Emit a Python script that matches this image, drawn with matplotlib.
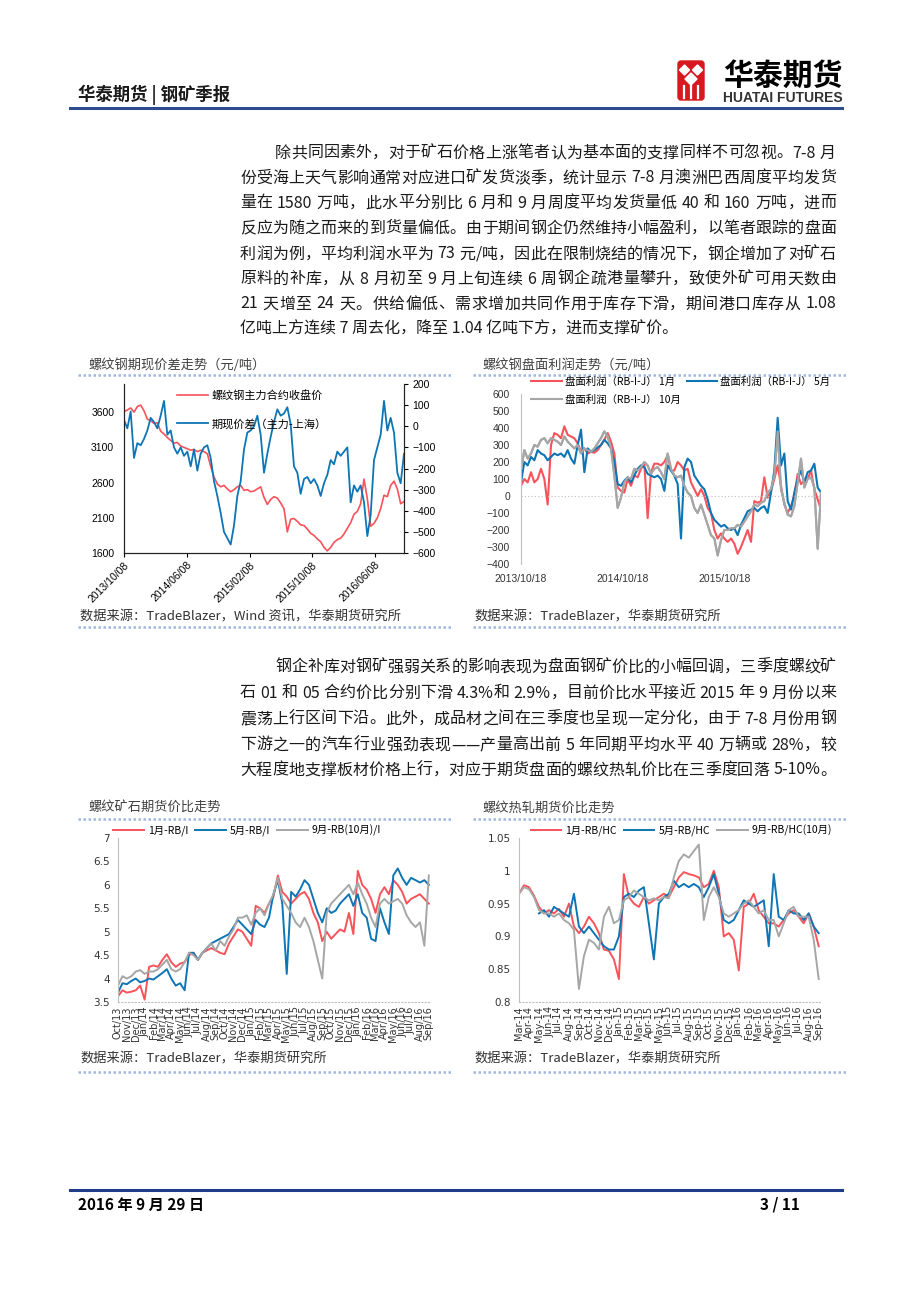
import re
import numpy as np
import pandas as pd
import matplotlib
matplotlib.use("Agg")
import matplotlib.pyplot as plt
import matplotlib.dates as mdates
from matplotlib.ticker import FuncFormatter
from matplotlib.patches import FancyBboxPatch, Polygon

plt.rcParams['font.family'] = ['Noto Sans CJK SC', 'DejaVu Sans']

RED = '#F8525A'
BLUE = '#0E75B5'
GRAY = '#A6A6A6'
LINE_BLUE = '#9FB6DD'

# ---------------- data ----------------
# chart 1: rebar main contract close (left) and futures-spot basis (right)
rb_close = [3610, 3630, 3660, 3600, 3680, 3700, 3620, 3500, 3480, 3440,
            3450, 3330, 3290, 3240, 3200, 3160, 3170, 3120, 3100, 3080,
            3060, 3070, 3040, 3060, 3040, 3010, 2830, 2680, 2580, 2540,
            2560, 2510, 2470, 2500, 2540, 2560, 2490, 2500, 2470, 2480,
            2510, 2540, 2390, 2290, 2360, 2400, 2380, 2310, 2230, 1900,
            2080, 2090, 2050, 2000, 1990, 1940, 1880, 1850, 1800, 1760,
            1680, 1630, 1680, 1750, 1790, 1810, 1870, 1950, 2030, 2150,
            2190, 2300, 2650, 2370, 1980, 2020, 2100, 2230, 2420, 2400,
            2560, 2620, 2510, 2300, 2330]
rb_basis = [30, -10, 70, -150, -80, -90, -60, -20, 40, 20,
            -10, 50, 120, -40, -20, -100, -130, -100, -140, -120,
            -190, -110, -210, -130, -100, -90, -150, -260, -330, -410,
            -500, -530, -560, -470, -330, -260, -110, -30, -20, 0,
            50, -40, -220, -130, -50, 20, 80, 50, 60, 90,
            10, -190, -220, -320, -250, -240, -270, -250, -280, -330,
            -270, -230, -160, -180, -120, -140, -120, -100, -360, -280,
            -310, -280, -360, -520, -420, -160, -100, -40, 120, -20,
            40, -30, -220, -270, -130]
c1_ticks = ['2013-10-08', '2014-06-08', '2015-02-08', '2015-10-08', '2016-06-08']

# chart 2: rebar board profit (RB-I-J)
profit_jan = [60, 100, 80, 140, 80, 100, 160, 100, -50, 300,
              370, 360, 340, 410, 360, 350, 340, 310, 260, 280,
              250, 260, 255, 270, 300, 330, 370, 320, 250, 50,
              30, 20, 100, 60, 120, 110, 160, 190, -130, 140,
              190, 190, 180, 200, 240, 150, 150, 200, 180, 150,
              160, 80, 40, 0, 40, 0, -70, -100, -200, -250,
              -220, -250, -270, -250, -280, -340, -300, -250, -200, -270,
              -30, -40, -30, 110, -10, 30, 100, 180, 60, -50,
              -100, -60, 0, 130, 70, 90, 100, 150, 40, -20,
              -80]
profit_may = [80, 200, 180, 230, 210, 270, 250, 240, 210, 230,
              250, 240, 250, 230, 270, 220, 190, 300, 390, 140,
              280, 260, 270, 285, 300, 330, 310, 280, 200, 70,
              60, 90, 110, 80, 120, 160, 180, 170, 130, 120,
              110, 120, 100, 30, 180, 150, 120, 70, -250, 170,
              220, 200, 120, 90, 60, 40, -20, -100, -140, -160,
              -180, -170, -190, -200, -190, -230, -170, -130, -90, -80,
              -70, -90, -70, -60, -100, 20, 150, 460, 180, 250,
              -30, -80, 20, 100, 150, 80, 140, 150, 190, 50,
              20]
profit_oct = [150, 270, 220, 250, 300, 290, 330, 340, 310, 340,
              330, 320, 300, 350, 320, 300, 280, 300, 250, 280,
              270, 260, 280, 310, 340, 380, 350, 280, 120, -70,
              -10, 80, 110, 100, 160, 150, 170, 200, 180, 130,
              160, 170, 140, 100, 250, 160, 120, 110, 120, 60,
              20, 0, -70, -100, -50, -110, -170, -230, -250, -350,
              -260, -200, -200, -190, -190, -170, -180, -150, -120, -90,
              -50, -60, -40, -30, 20, 40, 120, 380, 40, -40,
              -110, -120, -60, 80, 220, 50, 100, 110, 50, -310,
              20]
c2_ticks = ['2013-10-18', '2014-10-18', '2015-10-18']

# chart 3: rebar / iron ore ratio
rbi_jan = [3.62, 3.75, 3.70, 3.72, 3.75, 3.85, 3.55, 4.25, 4.28, 4.25,
           4.40, 4.52, 4.35, 4.25, 4.32, 4.35, 4.50, 4.55, 4.40, 4.55,
           4.60, 4.65, 4.60, 4.55, 4.52, 4.75, 4.90, 5.05, 5.00, 4.85,
           4.70, 5.55, 5.50, 5.40, 5.60, 5.75, 6.20, 5.85, 5.75, 5.60,
           5.70, 5.80, 5.85, 5.70, 5.40, 5.20, 4.80, 5.00, 4.85, 4.95,
           5.05, 5.00, 5.40, 4.95, 6.30, 6.00, 5.90, 5.70, 5.40, 5.80,
           5.95, 5.80, 6.10, 6.00, 5.85, 5.60, 5.70, 5.75, 5.80, 5.70,
           5.60]
rbi_may = [3.70, 3.90, 3.88, 3.95, 4.00, 3.92, 3.95, 4.00, 3.98, 4.05,
           4.12, 4.20, 4.00, 3.85, 3.90, 3.75, 4.55, 4.55, 4.40, 4.55,
           4.65, 4.75, 4.80, 4.85, 4.90, 4.95, 5.10, 5.25, 5.15, 5.05,
           4.95, 5.25, 5.15, 5.10, 5.30, 5.80, 6.10, 5.60, 4.10, 5.85,
           5.75, 5.90, 6.10, 6.00, 5.70, 5.40, 5.20, 5.50, 5.40, 5.45,
           5.60, 5.70, 5.80, 5.55, 5.80, 5.40, 5.30, 4.85, 4.80, 5.50,
           5.20, 4.95, 6.20, 6.35, 6.15, 6.00, 6.15, 6.10, 6.05, 6.10,
           6.00]
rbi_sep = [3.85, 4.05, 4.00, 4.05, 4.15, 4.18, 4.10, 4.15, 4.15, 4.20,
           4.30, 4.40, 4.20, 4.15, 4.20, 4.35, 4.55, 4.50, 4.40, 4.55,
           4.65, 4.75, 4.60, 4.80, 4.70, 4.90, 5.05, 5.30, 5.30, 5.35,
           5.15, 5.40, 5.50, 5.35, 5.60, 5.80, 6.15, 5.70, 5.55, 5.40,
           5.20, 5.10, 5.30, 5.10, 4.80, 4.40, 4.00, 5.40, 5.60, 5.70,
           5.80, 5.90, 6.00, 5.80, 6.05, 5.80, 5.60, 5.30, 5.10, 5.60,
           5.70, 5.60, 5.65, 5.70, 5.60, 5.35, 5.20, 5.10, 5.20, 4.70,
           6.20]

# chart 4: rebar / hot-rolled coil ratio
rbhc_jan = [0.965, 0.978, 0.975, 0.962, 0.945, 0.935, 0.940, 0.935, 0.942, 0.930,
            0.950, 0.915, 0.905, 0.915, 0.930, 0.920, 0.905, 0.880, 0.878, 0.865,
            0.835, 0.995, 0.960, 0.950, 0.945, 0.960, 0.950, 0.955, 0.960, 0.965,
            0.960, 0.975, 0.990, 0.998, 0.995, 0.993, 0.990, 0.975, 0.980, 1.000,
            0.975, 0.900, 0.905, 0.895, 0.848, 0.945, 0.950, 0.965, 0.940, 0.930,
            0.920, 0.920, 0.915, 0.925, 0.935, 0.940, 0.930, 0.920, 0.935, 0.915,
            0.885]
rbhc_may = [np.nan, np.nan, np.nan, np.nan, 0.935, 0.940, 0.930, 0.945, 0.940, 0.935,
            0.930, 0.965, 0.915, 0.905, 0.915, 0.905, 0.895, 0.885, 0.880, 0.880,
            0.900, 0.960, 0.965, 0.960, 0.970, 0.975, 0.920, 0.865, 0.950, 0.960,
            0.965, 0.985, 0.975, 0.980, 0.975, 0.980, 0.975, 0.960, 0.975, 0.995,
            0.965, 0.925, 0.920, 0.925, 0.940, 0.955, 0.950, 0.945, 0.950, 0.955,
            0.885, 0.995, 0.930, 0.925, 0.940, 0.935, 0.935, 0.925, 0.935, 0.915,
            0.905]
rbhc_sep = [0.965, 0.975, 0.972, 0.960, 0.940, 0.935, 0.935, 0.930, 0.935, 0.925,
            0.920, 0.910, 0.820, 0.870, 0.895, 0.890, 0.880, 0.930, 0.945, 0.920,
            0.925, 0.955, 0.960, 0.970, 0.965, 0.960, 0.955, 0.958, 0.955, 0.960,
            0.958, 0.990, 1.015, 1.025, 1.020, 1.030, 1.040, 0.925, 0.960, 0.975,
            0.960, 0.935, 0.930, 0.935, 0.940, 0.950, 0.955, 0.945, 0.935, 0.940,
            0.925, 0.925, 0.900, 0.920, 0.940, 0.945, 0.930, 0.930, 0.930, 0.895,
            0.835]

para1 = ["除共同因素外，对于矿石价格上涨笔者认为基本面的支撑同样不可忽视。7-8 月",
         "份受海上天气影响通常对应进口矿发货淡季，统计显示 7-8 月澳洲巴西周度平均发货",
         "量在 1580 万吨，此水平分别比 6 月和 9 月周度平均发货量低 40 和 160 万吨，进而",
         "反应为随之而来的到货量偏低。由于期间钢企仍然维持小幅盈利，以笔者跟踪的盘面",
         "利润为例，平均利润水平为 73 元/吨，因此在限制烧结的情况下，钢企增加了对矿石",
         "原料的补库，从 8 月初至 9 月上旬连续 6 周钢企疏港量攀升，致使外矿可用天数由",
         "21 天增至 24 天。供给偏低、需求增加共同作用于库存下滑，期间港口库存从 1.08",
         "亿吨上方连续 7 周去化，降至 1.04 亿吨下方，进而支撑矿价。"]
para2 = ["钢企补库对钢矿强弱关系的影响表现为盘面钢矿价比的小幅回调，三季度螺纹矿",
         "石 01 和 05 合约价比分别下滑 4.3%和 2.9%，目前价比水平接近 2015 年 9 月份以来",
         "震荡上行区间下沿。此外，成品材之间在三季度也呈现一定分化，由于 7-8 月份用钢",
         "下游之一的汽车行业强劲表现——产量高出前 5 年同期平均水平 40 万辆或 28%，较",
         "大程度地支撑板材价格上行，对应于期货盘面的螺纹热轧价比在三季度回落 5-10%。"]

# ---------------- page ----------------
W, H = 920, 1302
fig = plt.figure(figsize=(9.2, 13.02), dpi=100)
page = fig.add_axes([0, 0, 1, 1])
page.set_xlim(0, W)
page.set_ylim(H, 0)
page.axis('off')
renderer = fig.canvas.get_renderer()


def axes_px(l, t, r, b):
    return fig.add_axes([l / W, 1 - b / H, (r - l) / W, (b - t) / H])


def justify(line, x0, x1, y, size, full=True):
    if not full:
        page.text(x0, y, line, fontsize=size, color='#1A1A1A', va='center')
        return
    toks = re.findall(r'[A-Za-z0-9%./\-]+| |.', line)
    widths = []
    for tok in toks:
        if tok == ' ':
            widths.append(4.0)
            continue
        t = page.text(0, 0, tok, fontsize=size)
        widths.append(t.get_window_extent(renderer=renderer).width)
        t.remove()
    gap = (x1 - x0 - sum(widths)) / (len(toks) - 1)
    x = x0
    for tok, w in zip(toks, widths):
        if tok != ' ':
            page.text(x, y, tok, fontsize=size, color='#1A1A1A', va='center')
        x += w + gap


# header
page.text(78, 95, "华泰期货 | 钢矿季报", fontsize=12.5, fontweight='bold',
          color='#1A1A1A', va='center')
page.plot([70, 842], [108, 108], color='#2E4D8F', lw=2.2)
page.add_patch(FancyBboxPatch((678, 61), 26, 39, boxstyle='round,pad=0,rounding_size=3',
                              color='#D7191F'))
for cx, cy, s in [(684.5, 70, 5), (697.5, 70, 5), (691, 79, 6)]:
    page.add_patch(Polygon([(cx, cy - s), (cx + s, cy), (cx, cy + s), (cx - s, cy)],
                           closed=True, color='white'))
for bx in [684, 691, 698]:
    page.plot([bx, bx], [86, 98], color='white', lw=1.6)
page.text(723, 76, "华泰期货", fontsize=21.5, fontweight='bold', color='black', va='center')
page.text(723, 98, "HUATAI FUTURES", fontsize=10, fontweight='bold', color='#333333',
          va='center', family='Liberation Sans')

# body text
for i, (ln, y) in enumerate(zip(para1, [153, 178, 203, 228, 254, 279, 304, 329])):
    justify(ln, 275 if i == 0 else 240, 836, y, 11.5, full=(i < len(para1) - 1))
for i, (ln, y) in enumerate(zip(para2, [667, 693, 719, 745, 770])):
    justify(ln, 275 if i == 0 else 240, 836, y, 11.5)

# footer
page.plot([70, 842], [1190, 1190], color='#1F3C88', lw=2.2)
page.text(78, 1205, "2016 年 9 月 29 日", fontsize=11, fontweight='bold', va='center')
page.text(800, 1205, "3 / 11", fontsize=11, fontweight='bold', va='center', ha='right')


def frame(x0, x1, tx, y_title, title, y_src, src, y_l1, y_l2):
    page.text(tx, y_title, title, fontsize=9.5, color='#404040', va='center')
    page.text(tx - 8, y_src, src, fontsize=9.5, color='#333333', va='center')
    for yy in (y_l1, y_l2):
        page.plot([x0, x1], [yy, yy], color=LINE_BLUE, lw=1.8, ls=(0, (1, 1)))


frame(78, 452, 88, 365, "螺纹钢期现价差走势（元/吨）", 617,
      "数据来源：TradeBlazer，Wind 资讯，华泰期货研究所", 375, 627)
frame(473, 846, 482, 365, "螺纹钢盘面利润走势（元/吨）", 617,
      "数据来源：TradeBlazer，华泰期货研究所", 375, 627)
frame(78, 452, 88, 808, "螺纹矿石期货价比走势", 1059,
      "数据来源：TradeBlazer，华泰期货研究所", 819, 1072)
frame(473, 846, 482, 808, "螺纹热轧期货价比走势", 1059,
      "数据来源：TradeBlazer，华泰期货研究所", 819, 1072)

# ---------------- chart 1 ----------------
ax1 = axes_px(124, 384, 404, 553)
d1 = pd.date_range('2013-10-08', '2016-09-30', periods=len(rb_close))
l1, = ax1.plot(d1, rb_close, color=RED, lw=1.2, label='螺纹钢主力合约收盘价')
ax1.set_ylim(1600, 4000)
ax1.set_yticks(range(1600, 3601, 500))
ax1.set_xlim(pd.Timestamp('2013-10-08'), pd.Timestamp('2016-09-30'))
ax1.set_xticks(pd.to_datetime(c1_ticks))
ax1.xaxis.set_major_formatter(mdates.DateFormatter('%Y/%m/%d'))
ax1b = ax1.twinx()
l2, = ax1b.plot(pd.date_range('2013-10-08', '2016-09-30', periods=len(rb_basis)),
                rb_basis, color=BLUE, lw=1.3, label='期现价差（主力-上海）')
ax1b.set_ylim(-600, 200)
ax1b.set_yticks(range(-600, 201, 100))
for a in (ax1, ax1b):
    a.spines['top'].set_visible(False)
    for s in a.spines.values():
        s.set_color('#222222')
        s.set_linewidth(0.8)
    a.patch.set_visible(False)
ax1.tick_params(axis='y', length=0, pad=7, labelsize=7.5, labelfontfamily='Liberation Sans')
ax1.tick_params(axis='x', length=3, pad=2, labelsize=7.5, labelfontfamily='Liberation Sans')
ax1b.tick_params(axis='y', length=3, pad=3, labelsize=7.5, labelfontfamily='Liberation Sans')
for lab in ax1.get_xticklabels():
    lab.set_rotation(45)
    lab.set_ha('right')
    lab.set_rotation_mode('anchor')
ax1b.legend(handles=[l1, l2], loc='upper left', bbox_to_anchor=(0.19, 0.965),
            frameon=False, fontsize=8, handlelength=2.8, handletextpad=0.3,
            labelspacing=1.6, borderpad=0, borderaxespad=0)

# ---------------- chart 2 ----------------
ax2 = axes_px(521, 394, 821, 564)
d2 = pd.date_range('2013-10-18', '2016-09-29', periods=len(profit_jan))
p1, = ax2.plot(d2, profit_jan, color=RED, lw=1.5, label='盘面利润（RB-I-J） 1月')
p3, = ax2.plot(d2, profit_oct, color=GRAY, lw=1.5, label='盘面利润（RB-I-J） 10月')
p2, = ax2.plot(d2, profit_may, color=BLUE, lw=1.5, label='盘面利润（RB-I-J） 5月')
ax2.plot(d2, profit_oct, color=GRAY, lw=1.5)
ax2.set_ylim(-400, 600)
ax2.set_yticks(range(-400, 601, 100))
ax2.set_xlim(pd.Timestamp('2013-10-18'), pd.Timestamp('2016-09-29'))
ax2.set_xticks(pd.to_datetime(c2_ticks))
ax2.xaxis.set_major_formatter(mdates.DateFormatter('%Y/%m/%d'))
ax2.axhline(0, color='#BFBFBF', lw=0.8, ls=(0, (1, 2)))
for s in ('top', 'right', 'bottom'):
    ax2.spines[s].set_visible(False)
ax2.spines['left'].set_color('#BFBFBF')
ax2.patch.set_visible(False)
ax2.tick_params(axis='y', length=0, pad=8, labelsize=7.5, labelcolor='#333333',
                labelfontfamily='Liberation Sans')
ax2.tick_params(axis='x', length=0, pad=7, labelsize=7.5, labelcolor='#333333',
                labelfontfamily='Liberation Sans')
ax2.legend(handles=[p1, p3, p2], ncol=2, loc='upper left', bbox_to_anchor=(0.035, 1.1),
           frameon=False, fontsize=7.5, handlelength=2.9, handletextpad=0.3,
           labelspacing=0.75, columnspacing=0.6, borderpad=0, borderaxespad=0)


# ---------------- charts 3, 4 ----------------
def ratio_chart(box, start, end, series, labels, ylim, yticks, leg_x, datefmt):
    ax = axes_px(*box)
    dates = pd.date_range(start, end, periods=len(series[0]))
    hs = []
    for vals, col, lab in zip(series, (RED, BLUE, GRAY), labels):
        h, = ax.plot(dates, vals, color=col, lw=1.4, label=lab)
        hs.append(h)
    ax.set_ylim(*ylim)
    ax.set_yticks(yticks)
    ax.yaxis.set_major_formatter(FuncFormatter(lambda v, p: '%g' % v))
    ax.set_xlim(pd.Timestamp(start), pd.Timestamp(end) + pd.Timedelta(days=4))
    ax.set_xticks(pd.date_range(start, end, freq='MS'))
    ax.xaxis.set_major_formatter(mdates.DateFormatter(datefmt))
    for s in ('top', 'right'):
        ax.spines[s].set_visible(False)
    ax.spines['left'].set_color('#BFBFBF')
    ax.spines['bottom'].set_color('#BFBFBF')
    ax.spines['bottom'].set_linestyle((0, (1, 2)))
    ax.patch.set_visible(False)
    ax.tick_params(axis='y', length=0, pad=6, labelsize=7.5, labelcolor='#333333',
                   labelfontfamily='DejaVu Sans')
    ax.tick_params(axis='x', length=0, pad=3, labelsize=7, labelcolor='#333333',
                   labelrotation=90, labelfontfamily='DejaVu Sans')
    ax.legend(handles=hs, ncol=3, loc='center left', bbox_to_anchor=(leg_x, 1.045),
              frameon=False, fontsize=7.5, handlelength=2.9, handletextpad=0.4,
              columnspacing=0.7, borderpad=0, borderaxespad=0)
    return ax


ratio_chart((118, 838, 430, 1002), '2013-10-01', '2016-09-01',
            [rbi_jan, rbi_may, rbi_sep], ['1月-RB/I', '5月-RB/I', '9月-RB(10月)/I'],
            (3.5, 7), np.arange(3.5, 7.01, 0.5), -0.015, '%b/%y')
ratio_chart((519, 838, 820, 1002), '2014-03-01', '2016-09-01',
            [rbhc_jan, rbhc_may, rbhc_sep], ['1月-RB/HC', '5月-RB/HC', '9月-RB/HC(10月)'],
            (0.8, 1.05), [0.8, 0.85, 0.9, 0.95, 1.0, 1.05], 0.04, '%b-%y')

fig.savefig('out.png', dpi=100)
